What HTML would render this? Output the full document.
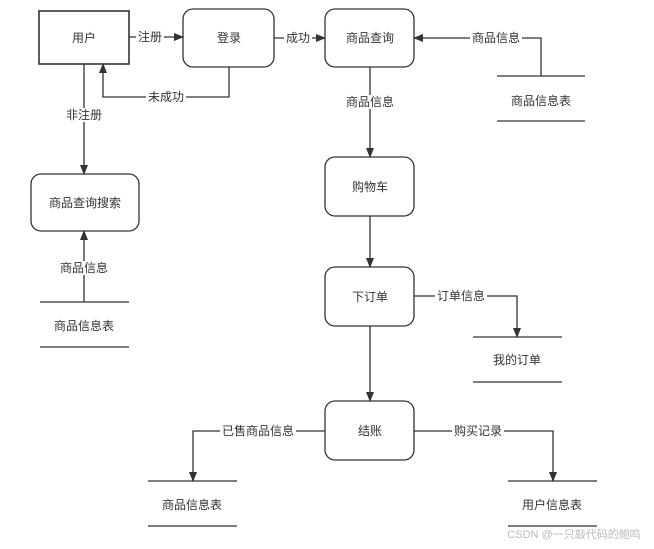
<!DOCTYPE html>
<html><head><meta charset="utf-8"><style>
body{margin:0;background:#fff}
svg{display:block}
text{font-family:"Liberation Sans","Noto Sans CJK SC",sans-serif;font-size:12px;fill:#333;text-anchor:middle;dominant-baseline:central}
.bg{fill:#fff;stroke:none}
</style></head><body>
<svg width="654" height="549" viewBox="0 0 654 549">
<defs><marker id="a" markerWidth="10" markerHeight="10" refX="9" refY="5" orient="auto" markerUnits="userSpaceOnUse"><path d="M0,1 L10,5 L0,9 Z" fill="#333"/></marker></defs>
<g fill="none" stroke="#333" stroke-width="1.3">
<rect x="39" y="11" width="90" height="53" stroke-width="1.6"/>
<rect x="183" y="9" width="91" height="58" rx="10"/>
<rect x="325" y="9" width="89" height="58" rx="10"/>
<rect x="325" y="157" width="89" height="59" rx="10"/>
<rect x="325" y="267" width="89" height="59" rx="10"/>
<rect x="325" y="401" width="89" height="59" rx="10"/>
<rect x="31" y="174" width="108" height="57" rx="10"/>
<path d="M497 76H585M497 121H585M40 302H129M40 347H129M473 337H562M473 382H562M148 481H237M148 526H237M508 481H597M508 526H597"/>
<path d="M129 37H183" marker-end="url(#a)"/>
<path d="M274 38H325" marker-end="url(#a)"/>
<path d="M229 67V97H103V64" marker-end="url(#a)"/>
<path d="M84 64V174" marker-end="url(#a)"/>
<path d="M84 302V231" marker-end="url(#a)"/>
<path d="M541 76V38H414" marker-end="url(#a)"/>
<path d="M370 67V157" marker-end="url(#a)"/>
<path d="M370 216V267" marker-end="url(#a)"/>
<path d="M414 296H517V337" marker-end="url(#a)"/>
<path d="M370 326V401" marker-end="url(#a)"/>
<path d="M325 431H193V481" marker-end="url(#a)"/>
<path d="M414 431H553V481" marker-end="url(#a)"/>
</g>
<rect class="bg" x="136" y="30" width="28" height="14"/><text x="150" y="37">注册</text>
<rect class="bg" x="284" y="31" width="28" height="14"/><text x="298" y="38">成功</text>
<rect class="bg" x="146" y="90" width="40" height="14"/><text x="166" y="97">未成功</text>
<rect class="bg" x="64" y="108" width="40" height="14"/><text x="84" y="115">非注册</text>
<rect class="bg" x="58" y="261" width="52" height="14"/><text x="84" y="268">商品信息</text>
<rect class="bg" x="470" y="31" width="52" height="14"/><text x="496" y="38">商品信息</text>
<rect class="bg" x="343" y="95" width="54" height="14"/><text x="370" y="102">商品信息</text>
<rect class="bg" x="435" y="289" width="52" height="14"/><text x="461" y="296">订单信息</text>
<rect class="bg" x="220" y="424" width="76" height="14"/><text x="258" y="431">已售商品信息</text>
<rect class="bg" x="452" y="424" width="52" height="14"/><text x="478" y="431">购买记录</text>
<text x="84" y="38">用户</text>
<text x="229" y="38">登录</text>
<text x="370" y="38">商品查询</text>
<text x="370" y="187">购物车</text>
<text x="370" y="297">下订单</text>
<text x="370" y="431">结账</text>
<text x="85" y="203">商品查询搜索</text>
<text x="541" y="101">商品信息表</text>
<text x="84" y="326">商品信息表</text>
<text x="517" y="360">我的订单</text>
<text x="192" y="505">商品信息表</text>
<text x="552" y="505">用户信息表</text>
<text x="574" y="535" style="font-size:11px;fill:#bbb">CSDN @一只敲代码的鲍鸣</text>
</svg>
</body></html>
